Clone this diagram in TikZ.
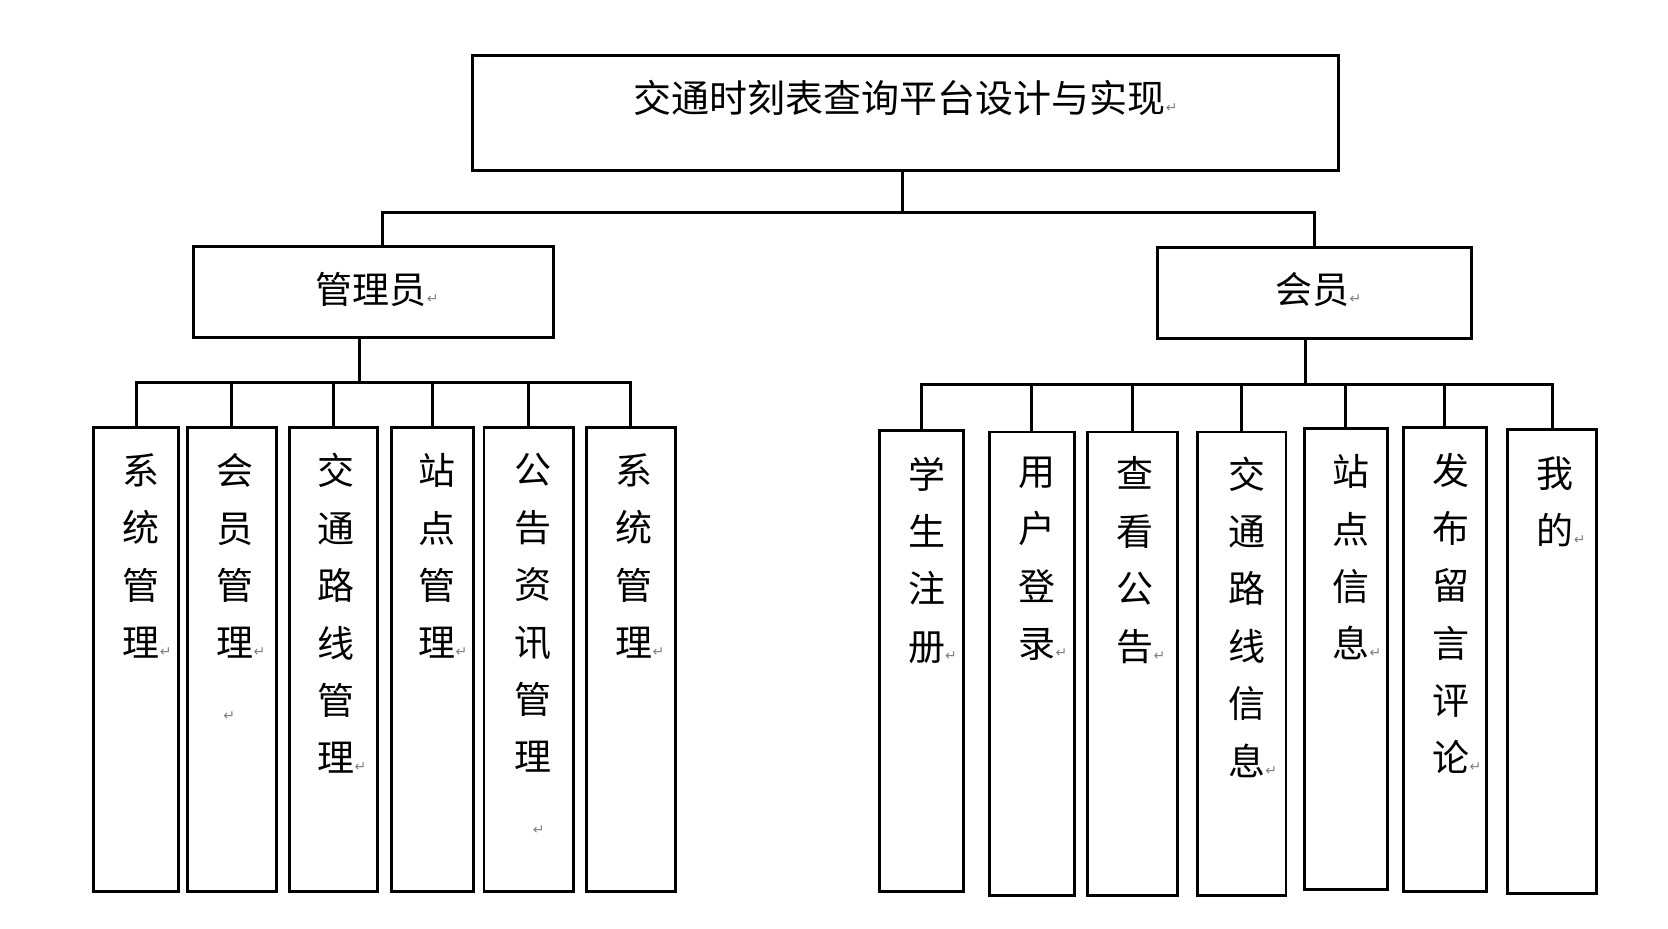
\documentclass[tikz,border=0pt]{standalone}
\usepackage{fontspec}
\usepackage{xcolor}
\newfontfamily\cjk{Noto Sans CJK SC}
\newfontfamily\symfont{DejaVu Sans}
\usetikzlibrary{positioning}
% Word paragraph mark after a text
\newcommand{\pmark}{\rlap{\symfont\fontsize{7pt}{7pt}\selectfont\color{gray}↵}}
\newcommand{\pmarkl}{\llap{\symfont\fontsize{7pt}{7pt}\selectfont\color{gray}↵}}
\tikzset{
  box/.style={draw, line width=1.4pt, inner sep=0pt},
  conn/.style={line width=1.5pt},
  htext/.style={font=\cjk\fontsize{18.5pt}{22pt}\selectfont, inner sep=0pt},
  vtext/.style={font=\cjk\fontsize{18.5pt}{28.7pt}\selectfont, align=center, anchor=north, inner sep=0pt},
}

\begin{document}
\begin{tikzpicture}[x=0.5319pt, y=-0.5319pt]
\useasboundingbox (0,0) rectangle (1568,873);

% top level
\node[box, minimum width=433pt, minimum height=57.4pt] (top) at (851,106) {};
\node[htext, font=\cjk\fontsize{19pt}{23pt}\selectfont] (toptxt) at (846,92) {交通时刻表查询平台设计与实现\pmark};

% roles
\node[box, minimum width=179.8pt, minimum height=45.2pt] (adm) at (351,274.5) {};
\node[htext] (admtxt) at (349,272) {管理员\pmark};
\node[box, minimum width=156.9pt, minimum height=45.2pt] (mem) at (1235.5,275.5) {};
\node[htext] (memtxt) at (1234,272) {会员\pmark};

\coordinate (tbus) at (848,200);
\draw[conn] (top.south -| tbus) -- (tbus) -| ([xshift=4.8pt]adm.north);
\draw[conn] (tbus) -| (mem.north);

% admin functions
\node[box, minimum width=42.6pt, minimum height=231.9pt] (a1) at (128,620) {};
\node[box, minimum width=44.7pt, minimum height=231.9pt] (a2) at (218,620) {};
\node[box, minimum width=44.1pt, minimum height=231.9pt] (a3) at (313.5,620) {};
\node[box, minimum width=41.0pt, minimum height=231.9pt] (a4) at (406.5,620) {};
\node[box, minimum width=44.7pt, minimum height=231.9pt] (a5) at (497,620) {};
\node[box, minimum width=44.7pt, minimum height=231.9pt] (a6) at (593,620) {};

\node[vtext] (a1txt) at (133,426) {系\\统\\管\\理\pmark};
\node[vtext] (a2txt) at (221,426) {会\\员\\管\\理\pmark\\[3pt]\pmarkl};
\node[vtext] (a3txt) at (316,426) {交\\通\\路\\线\\管\\理\pmark};
\node[vtext] (a4txt) at (411,426) {站\\点\\管\\理\pmark};
\node[vtext] (a5txt) at (501,426) {公\\告\\资\\讯\\管\\理\\[3pt]\pmark};
\node[vtext] (a6txt) at (596,426) {系\\统\\管\\理\pmark};

\coordinate (lbus) at (338,360);
\draw[conn] (adm.south -| lbus) -- (lbus);
\draw[conn] (a1.north) |- (lbus);
\draw[conn] (a6.north) |- (lbus);
\foreach \i in {2,...,5}
  \draw[conn] (a\i.north) -- (a\i.north |- lbus);

% member functions
\node[box, minimum width=42.0pt, minimum height=230.3pt] (b1) at (866.5,621.5) {};
\node[box, minimum width=42.6pt, minimum height=231.9pt] (b2) at (970,624) {};
\node[box, minimum width=45.2pt, minimum height=231.9pt] (b3) at (1064.5,624) {};
\node[box, minimum width=44.1pt, minimum height=231.9pt] (b4) at (1167.5,624) {};
\node[box, minimum width=41.5pt, minimum height=230.3pt] (b5) at (1265,619.5) {};
\node[box, minimum width=41.5pt, minimum height=231.9pt] (b6) at (1358,620) {};
\node[box, minimum width=44.7pt, minimum height=231.9pt] (b7) at (1459,622) {};

\node[vtext] (b1txt) at (871,429) {学\\生\\注\\册\pmark};
\node[vtext] (b2txt) at (975,429) {用\\户\\登\\录\pmark};
\node[vtext] (b3txt) at (1067,429) {查\\看\\公\\告\pmark};
\node[vtext] (b4txt) at (1172,429) {交\\通\\路\\线\\信\\息\pmark};
\node[vtext] (b5txt) at (1270,427) {站\\点\\信\\息\pmark};
\node[vtext] (b6txt) at (1364,426) {发\\布\\留\\言\\评\\论\pmark};
\node[vtext] (b7txt) at (1462,429) {我\\的\pmark};

\coordinate (rbus) at (1227,361);
\draw[conn] (mem.south -| rbus) -- (rbus);
\draw[conn] (b1.north) |- (rbus);
\draw[conn] (b7.north) |- (rbus);
\foreach \i in {2,...,6}
  \draw[conn] (b\i.north) -- (b\i.north |- rbus);
\end{tikzpicture}
\end{document}
